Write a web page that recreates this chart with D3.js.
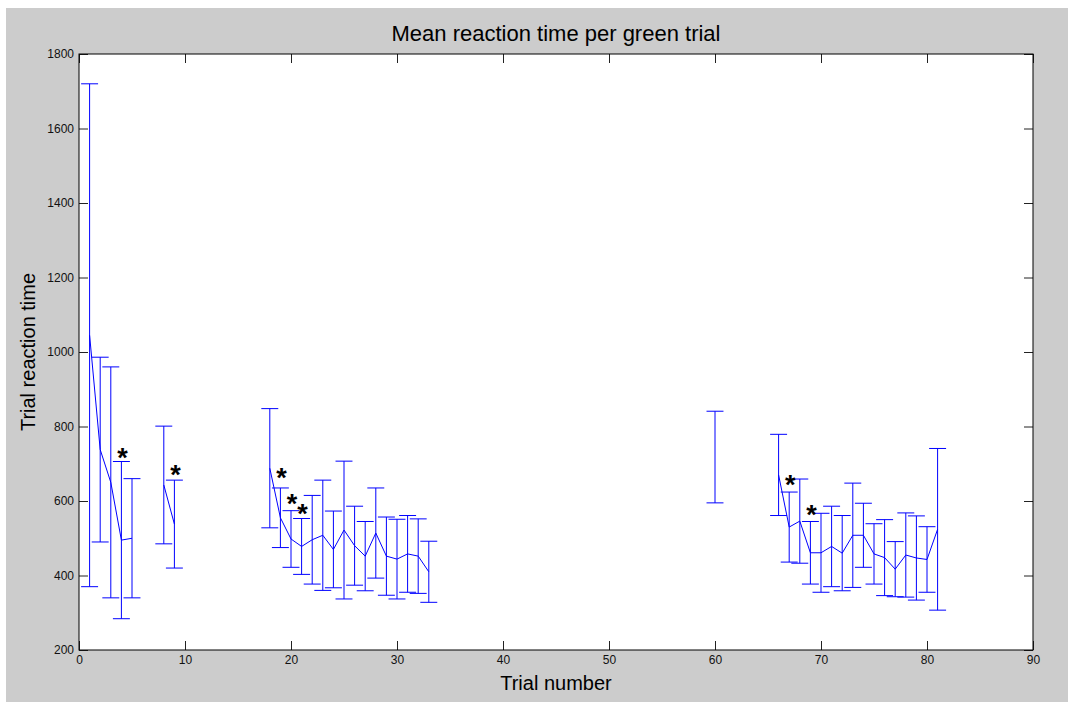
<!DOCTYPE html>
<html>
<head>
<meta charset="utf-8">
<style>
body { margin: 0; background: #fff; }
svg { display: block; font-family: "Liberation Sans", Arial, sans-serif; }
</style>
</head>
<body>
<div id="chart"></div>
<script src="https://d3js.org/d3.v7.min.js"></script>
<script>
// trial numbers that have data (gaps in between are not drawn)
const trials = [1, 2, 3, 4, 5, 8, 9,
  18, 19, 20, 21, 22, 23, 24, 25, 26, 27, 28, 29, 30, 31, 32, 33,
  60,
  66, 67, 68, 69, 70, 71, 72, 73, 74, 75, 76, 77, 78, 79, 80, 81];
// mean reaction time
const means = [1045, 738, 650, 495, 500, 643, 538,
  688, 555, 498, 478, 496, 508, 470, 522, 480, 452, 514, 452, 444, 458, 452, 410,
  718,
  670, 530, 546, 461, 461, 478, 460, 508, 508, 458, 448, 417, 455, 447, 443, 524];
// error (+/-)
const errs = [675, 248, 310, 211, 160, 158, 118,
  160, 80, 76, 75, 119, 148, 103, 185, 106, 93, 121, 105, 107, 103, 100, 82,
  123,
  109, 94, 113, 84, 106, 108, 101, 140, 86, 81, 102, 74, 113, 113, 88, 217];
// significance markers
const starTrials = [4, 9, 19, 20, 21, 67, 69];
const starValues = [734, 689, 680, 612, 583, 661, 582];

const xTicks = d3.range(0, 91, 10);
const yTicks = d3.range(200, 1801, 200);

const width = 1068, height = 702;
const margin = {left: 79, top: 54, right: 1033, bottom: 650};

const svg = d3.select("#chart").append("svg")
  .attr("width", width)
  .attr("height", height);

// grey figure background
svg.append("rect")
  .attr("x", 6).attr("y", 8)
  .attr("width", width - 6).attr("height", height - 8)
  .attr("fill", "#cccccc");

svg.append("rect")
  .attr("x", margin.left).attr("y", margin.top)
  .attr("width", margin.right - margin.left)
  .attr("height", margin.bottom - margin.top)
  .attr("fill", "#fff");

const x = d3.scaleLinear().domain([0, 90]).range([margin.left, margin.right]);
const y = d3.scaleLinear().domain([200, 1800]).range([margin.bottom, margin.top]);

const data = trials.map((t, i) => ({t: t, m: means[i], e: errs[i]}));

// axes, ticks pointing inward
const styleAxis = g => {
  g.select(".domain").remove();
  g.selectAll(".tick line").attr("stroke", "#222");
  g.selectAll(".tick text").attr("fill", "#111").style("font-size", "12px");
};

svg.append("g")
  .attr("transform", `translate(0,${margin.bottom})`)
  .call(d3.axisBottom(x).tickValues(xTicks).tickFormat(d3.format("d"))
    .tickSizeInner(-9).tickSizeOuter(0).tickPadding(5))
  .call(styleAxis);

svg.append("g")
  .attr("transform", `translate(0,${margin.top})`)
  .call(d3.axisTop(x).tickValues(xTicks).tickSizeInner(-9).tickSizeOuter(0).tickFormat(""))
  .call(styleAxis);

svg.append("g")
  .attr("transform", `translate(${margin.left},0)`)
  .call(d3.axisLeft(y).tickValues(yTicks).tickFormat(d3.format("d"))
    .tickSizeInner(-9).tickSizeOuter(0).tickPadding(5))
  .call(styleAxis);

svg.append("g")
  .attr("transform", `translate(${margin.right},0)`)
  .call(d3.axisRight(y).tickValues(yTicks).tickSizeInner(-9).tickSizeOuter(0).tickFormat(""))
  .call(styleAxis);

// plot box
svg.append("rect")
  .attr("x", margin.left).attr("y", margin.top)
  .attr("width", margin.right - margin.left)
  .attr("height", margin.bottom - margin.top)
  .attr("fill", "none")
  .attr("stroke", "#000")
  .attr("stroke-width", 1);

// error bars
const tee = 0.8;
const bars = svg.append("g")
  .attr("stroke", "blue")
  .attr("stroke-width", 1)
  .attr("fill", "none");

bars.selectAll("path")
  .data(data)
  .join("path")
  .attr("d", d => {
    const xc = x(d.t), xl = x(d.t - tee), xr = x(d.t + tee);
    const yt = y(d.m + d.e), yb = y(d.m - d.e);
    return `M${xc},${yt}V${yb}M${xl},${yt}H${xr}M${xl},${yb}H${xr}`;
  });

// mean line, broken where trials are missing
const segments = [];
data.forEach((d, i) => {
  if (i === 0 || d.t - data[i - 1].t > 1) segments.push([]);
  segments[segments.length - 1].push(d);
});

const line = d3.line().x(d => x(d.t)).y(d => y(d.m));

svg.append("g")
  .selectAll("path")
  .data(segments.filter(s => s.length > 1))
  .join("path")
  .attr("d", line)
  .attr("fill", "none")
  .attr("stroke", "blue")
  .attr("stroke-width", 1);

// asterisks
svg.append("g")
  .selectAll("text")
  .data(starTrials)
  .join("text")
  .attr("x", (d, i) => x(d) + 1)
  .attr("y", (d, i) => y(starValues[i]) + 16)
  .attr("text-anchor", "middle")
  .style("font-size", "27px")
  .style("font-weight", "bold")
  .attr("fill", "#000")
  .text("*");

// titles
svg.append("text")
  .attr("x", (margin.left + margin.right) / 2)
  .attr("y", 41)
  .attr("text-anchor", "middle")
  .style("font-size", "22px")
  .attr("fill", "#000")
  .text("Mean reaction time per green trial");

svg.append("text")
  .attr("x", (margin.left + margin.right) / 2)
  .attr("y", 690)
  .attr("text-anchor", "middle")
  .style("font-size", "20px")
  .attr("fill", "#000")
  .text("Trial number");

svg.append("text")
  .attr("transform", `translate(35,${(margin.top + margin.bottom) / 2}) rotate(-90)`)
  .attr("text-anchor", "middle")
  .style("font-size", "20px")
  .attr("fill", "#000")
  .text("Trial reaction time");
</script>
</body>
</html>
